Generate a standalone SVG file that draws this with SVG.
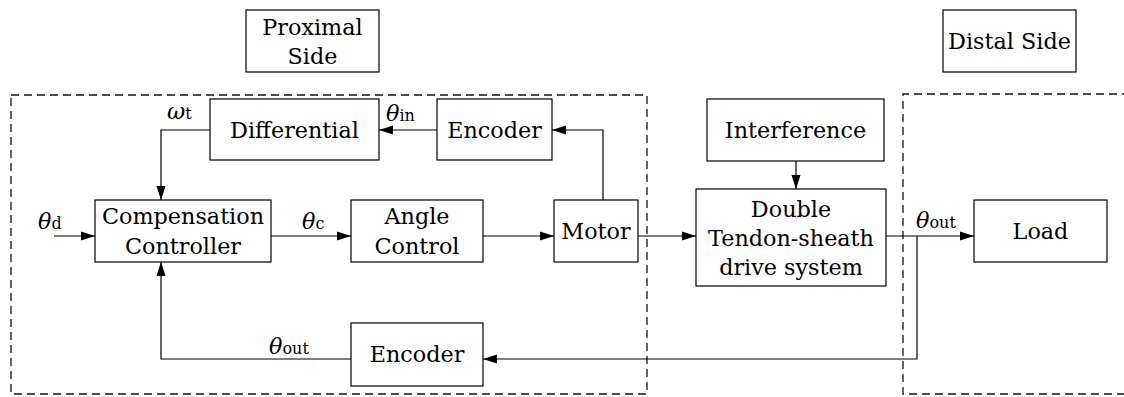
<svg xmlns="http://www.w3.org/2000/svg" width="1124" height="397" viewBox="0 0 1124 397">
<style>
.box{fill:#fff;stroke:#000;stroke-width:1.2}
.dash{fill:none;stroke:#111;stroke-width:1.3;stroke-dasharray:8,5}
.ln{fill:none;stroke:#000;stroke-width:1.2}
text{font-family:"DejaVu Serif","Liberation Serif",serif;font-size:22.3px;fill:#000}
.c{text-anchor:middle}
.sym{font-style:italic}
.sub{font-style:normal;font-size:16px}
</style>
<defs>
<marker id="ah" markerWidth="14" markerHeight="10" refX="14" refY="5" orient="auto" markerUnits="userSpaceOnUse">
<path d="M0,0.5 L14,5 L0,9.5 Z" fill="#000"/>
</marker>
</defs>
<rect width="1124" height="397" fill="#fff"/>
<g id="regions">
<rect class="dash" x="11" y="95" width="636" height="299"/>
<path class="dash" d="M1130,94 H903 V394 H1130"/>
</g>
<g id="connectors">
<path class="ln" d="M210,130 H161 V200" marker-end="url(#ah)"/>
<path class="ln" d="M437,130 H379" marker-end="url(#ah)"/>
<path class="ln" d="M603,200 V130 H552" marker-end="url(#ah)"/>
<path class="ln" d="M54,236 H95" marker-end="url(#ah)"/>
<path class="ln" d="M271,236 H351" marker-end="url(#ah)"/>
<path class="ln" d="M483,236 H554" marker-end="url(#ah)"/>
<path class="ln" d="M638,236 H696" marker-end="url(#ah)"/>
<path class="ln" d="M796,161 V189" marker-end="url(#ah)"/>
<path class="ln" d="M886,236 H974" marker-end="url(#ah)"/>
<path class="ln" d="M917,236 V359 H483" marker-end="url(#ah)"/>
<path class="ln" d="M351,359 H161 V262" marker-end="url(#ah)"/>
</g>
<g id="labels">
<text x="167" y="119"><tspan class="sym">ω</tspan><tspan class="sub">t</tspan></text>
<text x="386" y="121"><tspan class="sym">θ</tspan><tspan class="sub">in</tspan></text>
<text x="38" y="229"><tspan class="sym">θ</tspan><tspan class="sub">d</tspan></text>
<text x="302" y="229"><tspan class="sym">θ</tspan><tspan class="sub">c</tspan></text>
<text x="269" y="354"><tspan class="sym">θ</tspan><tspan class="sub">out</tspan></text>
<text x="916" y="228"><tspan class="sym">θ</tspan><tspan class="sub">out</tspan></text>
</g>
<g id="proximal">
<rect class="box" x="246" y="10" width="133" height="62"/>
<text class="c" x="312.5" y="35">Proximal</text>
<text class="c" x="312.5" y="64">Side</text>
</g>
<g id="distal">
<rect class="box" x="943" y="10" width="133" height="62"/>
<text class="c" x="1009.5" y="49">Distal Side</text>
</g>
<g id="differential">
<rect class="box" x="210" y="99" width="169" height="61"/>
<text class="c" x="294.5" y="138">Differential</text>
</g>
<g id="encoder-top">
<rect class="box" x="437" y="99" width="115" height="61"/>
<text class="c" x="494.5" y="138">Encoder</text>
</g>
<g id="compensation">
<rect class="box" x="95" y="200" width="176" height="62"/>
<text class="c" x="183" y="224">Compensation</text>
<text class="c" x="183" y="254">Controller</text>
</g>
<g id="angle">
<rect class="box" x="351" y="200" width="132" height="62"/>
<text class="c" x="417" y="224">Angle</text>
<text class="c" x="417" y="254">Control</text>
</g>
<g id="motor">
<rect class="box" x="554" y="200" width="84" height="62"/>
<text class="c" x="596" y="239">Motor</text>
</g>
<g id="encoder-bottom">
<rect class="box" x="351" y="323" width="132" height="63"/>
<text class="c" x="417" y="362">Encoder</text>
</g>
<g id="interference">
<rect class="box" x="707" y="99" width="177" height="62"/>
<text class="c" x="795.5" y="138">Interference</text>
</g>
<g id="tendon">
<rect class="box" x="696" y="189" width="190" height="97"/>
<text class="c" x="791" y="217">Double</text>
<text class="c" x="791" y="246">Tendon-sheath</text>
<text class="c" x="791" y="275">drive system</text>
</g>
<g id="load">
<rect class="box" x="974" y="200" width="133" height="62"/>
<text class="c" x="1040.5" y="239">Load</text>
</g>
</svg>
